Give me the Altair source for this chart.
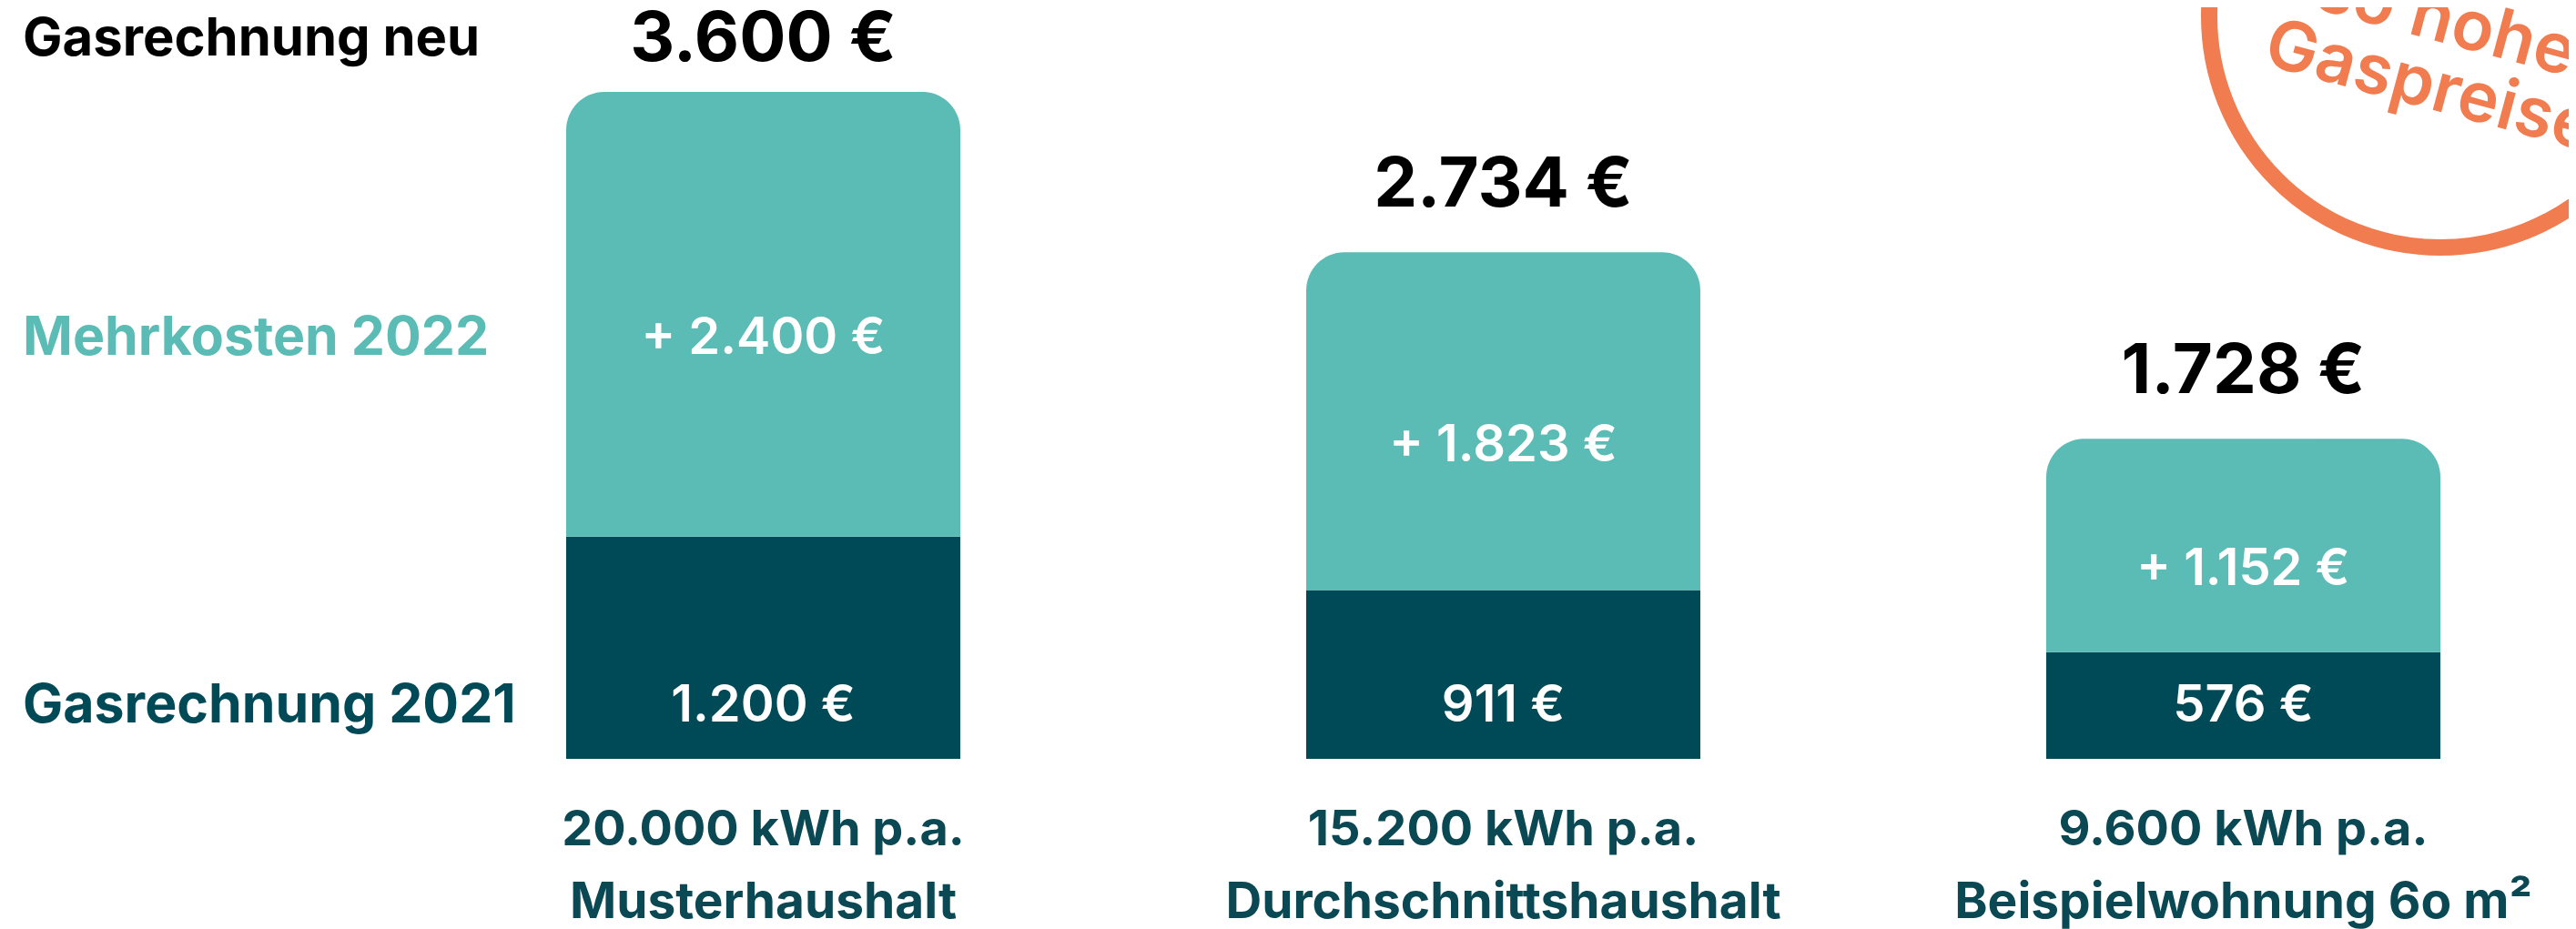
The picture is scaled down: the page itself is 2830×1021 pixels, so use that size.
import altair as alt
import pandas as pd

# ---- data ----
households = ["Musterhaushalt", "Durchschnittshaushalt", "Beispielwohnung 6o m²"]
consumption = ["20.000 kWh p.a.", "15.200 kWh p.a.", "9.600 kWh p.a."]
bill_2021 = [1200, 911, 576]
extra_2022 = [2400, 1823, 1152]

row_labels = ["Gasrechnung neu", "Mehrkosten 2022", "Gasrechnung 2021"]
stamp_lines = ["so hohe", "Gaspreise"]


def euro(v):
    return f"{v:,}".replace(",", ".") + " €"


df = pd.DataFrame({
    "household": households,
    "consumption": consumption,
    "base": bill_2021,
    "extra": extra_2022,
})
df["total"] = df["base"] + df["extra"]
df["base_label"] = df["base"].map(euro)
df["extra_label"] = "+ " + df["extra"].map(euro)
df["total_label"] = df["total"].map(euro)

# ---- styles ----
FONT = "Inter"
LIGHT = "#5BBBB5"
DARK = "#004A57"
TEXT_DARK = "#0A4853"
ORANGE = "#F07C50"
W, H = 2814, 1013

x_enc = alt.X("household:N", sort=households, axis=None,
              scale=alt.Scale(range=[614, 2673], paddingInner=0.4674, paddingOuter=0))
y_scale = alt.Scale(domain=[0, 3600], range=[826, 93], nice=False, zero=True)

TOP_POS = "min(datum.total + 360, 3880)"
MID_POS = "(datum.base + datum.total) / 2"

base = alt.Chart(df)

bar_2021 = base.mark_bar(color=DARK).encode(
    x=x_enc,
    y=alt.Y("base:Q", scale=y_scale, axis=None),
)
bar_extra = base.mark_bar(color=LIGHT, cornerRadiusTopLeft=42, cornerRadiusTopRight=42).encode(
    x=x_enc,
    y=alt.Y("total:Q", scale=y_scale, axis=None),
    y2="base:Q",
)

total_text = base.transform_calculate(pos=TOP_POS).mark_text(
    font=FONT, fontSize=76, fontWeight=700, color="#000000", baseline="middle"
).encode(x=x_enc, y=alt.Y("pos:Q", scale=y_scale, axis=None), text="total_label:N")

extra_text = base.transform_calculate(mid=MID_POS).mark_text(
    font=FONT, fontSize=56, fontWeight=600, color="white", baseline="middle", dy=27
).encode(x=x_enc, y=alt.Y("mid:Q", scale=y_scale, axis=None), text="extra_label:N")

base_text = base.transform_calculate(zero="0").mark_text(
    font=FONT, fontSize=56, fontWeight=600, color="white", baseline="middle", dy=-58
).encode(x=x_enc, y=alt.Y("zero:Q", scale=y_scale, axis=None), text="base_label:N")

kwh_text = base.transform_calculate(zero="0").mark_text(
    font=FONT, fontSize=54, fontWeight=700, color=TEXT_DARK, baseline="middle", dy=79
).encode(x=x_enc, y=alt.Y("zero:Q", scale=y_scale, axis=None), text="consumption:N")

name_text = base.transform_calculate(zero="0").mark_text(
    font=FONT, fontSize=55, fontWeight=700, color=TEXT_DARK, baseline="middle", dy=158
).encode(x=x_enc, y=alt.Y("zero:Q", scale=y_scale, axis=None), text="household:N")

# row labels on the left, aligned with the first bar's labels
first = alt.FieldEqualPredicate(field="household", equal=households[0])
left_top = base.transform_filter(first).transform_calculate(pos=TOP_POS).mark_text(
    font=FONT, fontSize=58, fontWeight=700, color="#000000", baseline="middle", align="left"
).encode(x=alt.value(17), y=alt.Y("pos:Q", scale=y_scale, axis=None), text=alt.value(row_labels[0]))
left_mid = base.transform_filter(first).transform_calculate(mid=MID_POS).mark_text(
    font=FONT, fontSize=59, fontWeight=700, color=LIGHT, baseline="middle", align="left", dy=27
).encode(x=alt.value(17), y=alt.Y("mid:Q", scale=y_scale, axis=None), text=alt.value(row_labels[1]))
left_low = base.transform_filter(first).transform_calculate(zero="0").mark_text(
    font=FONT, fontSize=59, fontWeight=700, color=DARK, baseline="middle", align="left", dy=-58
).encode(x=alt.value(17), y=alt.Y("zero:Q", scale=y_scale, axis=None), text=alt.value(row_labels[2]))

# decorative stamp in the top-right corner
stamp_df = pd.DataFrame({"k": [0]})
stamp_ring = alt.Chart(stamp_df).mark_point(
    shape="circle", size=508 ** 2, filled=False, stroke=ORANGE, strokeWidth=18, opacity=1
).encode(x=alt.value(2673), y=alt.value(10))
stamp_t1 = alt.Chart(stamp_df).mark_text(
    font=FONT, fontSize=76, fontWeight=600, color=ORANGE, angle=15, baseline="middle", align="center"
).encode(x=alt.value(2679), y=alt.value(16), text=alt.value(stamp_lines[0]))
stamp_t2 = alt.Chart(stamp_df).mark_text(
    font=FONT, fontSize=76, fontWeight=600, color=ORANGE, angle=15, baseline="middle", align="center"
).encode(x=alt.value(2661), y=alt.value(88), text=alt.value(stamp_lines[1]))

chart = alt.layer(
    bar_2021, bar_extra, total_text, extra_text, base_text, kwh_text, name_text,
    left_top, left_mid, left_low, stamp_ring, stamp_t1, stamp_t2,
).properties(
    width=W, height=H, padding=0, autosize=alt.AutoSizeParams(type="none"), background="white"
).configure_view(stroke=None)

chart.save("out.html", embed_options={"renderer": "svg", "actions": False})
